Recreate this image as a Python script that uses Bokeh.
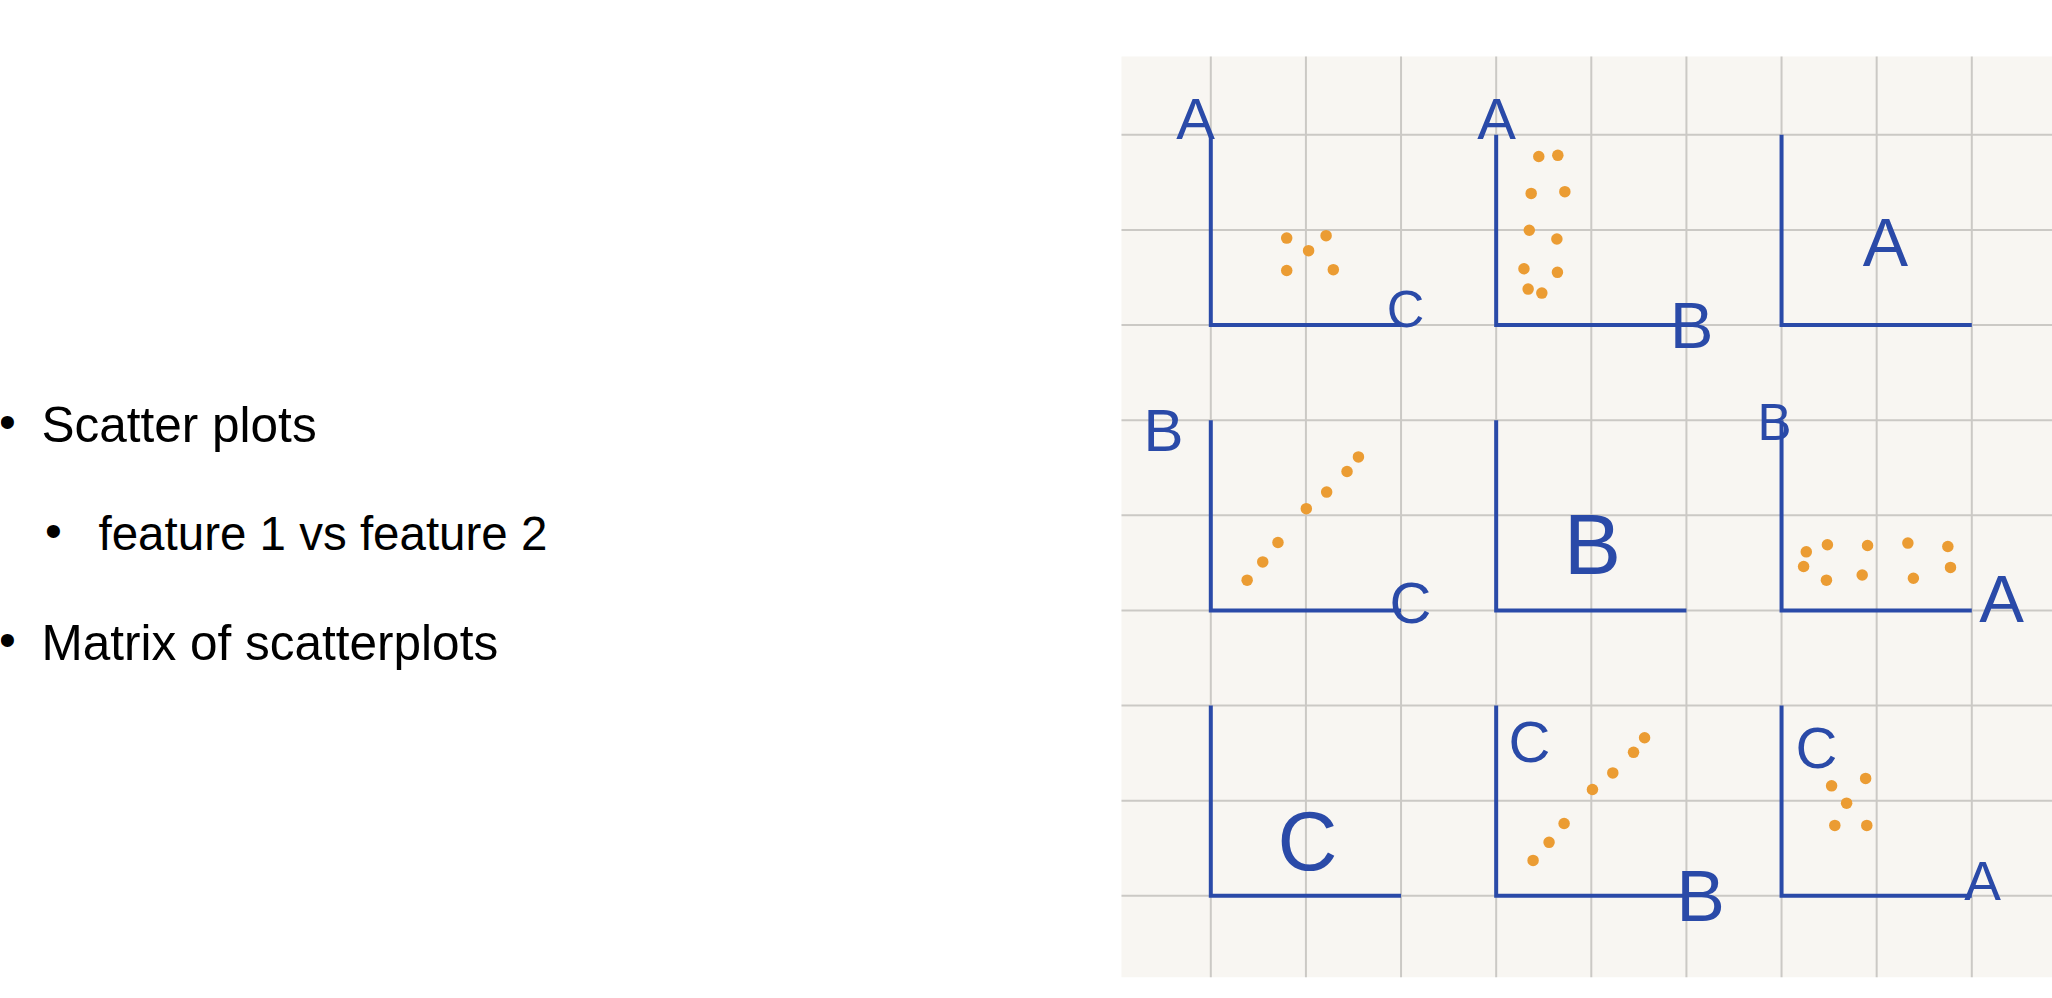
from bokeh.plotting import figure
from bokeh.models import Range1d
from bokeh.core.properties import value
from bokeh.embed import file_html
from bokeh.resources import INLINE

# ---------------- data (panel units: each axis runs 0..10) ----------------
features = ["A", "B", "C"]

# row 0 : A on the vertical axis
a_vs_c_x = [3.99, 6.06, 5.14, 3.99, 6.44]
a_vs_c_y = [4.57, 4.70, 3.91, 2.87, 2.91]
a_vs_b_x = [2.24, 3.24, 1.84, 3.61, 1.74, 3.19, 1.46, 3.22, 1.68, 2.40]
a_vs_b_y = [8.86, 8.92, 6.92, 7.01, 4.98, 4.52, 2.96, 2.77, 1.89, 1.68]
# row 1 : B on the vertical axis
b_vs_c_x = [1.91, 2.73, 3.53, 5.02, 6.09, 7.16, 7.76]
b_vs_c_y = [1.59, 2.55, 3.57, 5.35, 6.22, 7.30, 8.07]
b_vs_a_x = [1.30, 1.16, 2.41, 2.36, 4.52, 4.24, 6.64, 6.93, 8.74, 8.88]
b_vs_a_y = [3.08, 2.31, 3.45, 1.59, 3.41, 1.86, 3.54, 1.69, 3.36, 2.26]
# row 2 : C on the vertical axis
c_vs_b_x = [1.94, 2.78, 3.57, 5.06, 6.13, 7.22, 7.80]
c_vs_b_y = [1.86, 2.81, 3.80, 5.59, 6.46, 7.54, 8.31]
c_vs_a_x = [2.63, 4.42, 3.42, 2.80, 4.48]
c_vs_a_y = [5.78, 6.17, 4.87, 3.70, 3.70]

# (row, col) -> scatter data
panel_points = {
    (0, 0): (a_vs_c_x, a_vs_c_y),
    (0, 1): (a_vs_b_x, a_vs_b_y),
    (1, 0): (b_vs_c_x, b_vs_c_y),
    (1, 2): (b_vs_a_x, b_vs_a_y),
    (2, 1): (c_vs_b_x, c_vs_b_y),
    (2, 2): (c_vs_a_x, c_vs_a_y),
}

# hand-written labels: (row, col, text, x, y, font size px) in panel units
panel_labels = [
    (0, 0, "A", -0.80, 10.84, 65), (0, 0, "C", 10.23, 0.85, 58),
    (0, 1, "A", 0.02, 10.84, 65), (0, 1, "B", 10.27, -0.02, 72),
    (0, 2, "A", 5.46, 4.34, 75),
    (1, 0, "B", -2.49, 9.46, 67), (1, 0, "C", 10.50, 0.43, 64),
    (1, 1, "B", 5.06, 3.50, 95),
    (1, 2, "B", -0.37, 9.86, 57), (1, 2, "A", 11.56, 0.61, 74),
    (2, 0, "C", 5.08, 2.85, 92),
    (2, 1, "C", 1.75, 8.13, 65), (2, 1, "B", 10.74, 0.02, 81),
    (2, 2, "C", 1.84, 7.81, 65), (2, 2, "A", 10.57, 0.80, 61),
]

bullet_texts = ["Scatter plots", "feature 1 vs feature 2", "Matrix of scatterplots"]
bullet_levels = [1, 2, 1]

# ---------------- layout (page pixels) ----------------
FIG_W, FIG_H = 2052, 996
F_LEFT, F_TOP = 0, 0
F_RIGHT, F_BOTTOM = F_LEFT + FIG_W, F_TOP + FIG_H
CELL = 95.125
GRID_X0 = 1210.3          # page x of first vertical grid line
GRID_YB = 895.3           # page y of bottom panel row axis
PAPER_L, PAPER_T, PAPER_R, PAPER_B = 1121, 56, 2052, 976.7
UNIT = 2 * CELL / 10.0    # px per panel unit

BLUE = "#2a4aa8"
ORANGE = "#eb9c33"
PAPER = "#f8f6f2"
GRIDC = "#cbc9c5"

p = figure(width=FIG_W, height=FIG_H,
           x_range=Range1d(F_LEFT, F_RIGHT), y_range=Range1d(F_BOTTOM, F_TOP),
           x_axis_type=None, y_axis_type=None, output_backend="svg",
           toolbar_location=None, min_border=0)
p.outline_line_color = None
p.background_fill_color = "white"
p.border_fill_color = "white"

# panel coordinate systems through extra ranges
for c in range(3):
    ox = GRID_X0 + 3 * c * CELL
    p.extra_x_ranges[f"c{c}"] = Range1d((F_LEFT - ox) / UNIT, (F_RIGHT - ox) / UNIT)
for r in range(3):
    oy = GRID_YB - (2 - r) * 3 * CELL
    p.extra_y_ranges[f"r{r}"] = Range1d((oy - F_BOTTOM) / UNIT, (oy - F_TOP) / UNIT)

# paper
p.quad(left=[PAPER_L], right=[PAPER_R], top=[PAPER_T], bottom=[PAPER_B],
       fill_color=PAPER, line_color=None)

# paper grid
vticks = [GRID_X0 + i * CELL for i in range(9)]
hticks = [GRID_YB - j * CELL for j in range(9)]
p.segment(x0=vticks, x1=vticks, y0=[PAPER_T] * 9, y1=[PAPER_B] * 9,
          line_color=GRIDC, line_width=2)
p.segment(x0=[PAPER_L] * 9, x1=[PAPER_R] * 9, y0=hticks, y1=hticks,
          line_color=GRIDC, line_width=2)

# panel axes (L shapes)
for r in range(3):
    for c in range(3):
        p.line(x=[0, 0, 10], y=[10, 0, 0], line_color=BLUE, line_width=4,
               line_join="miter", x_range_name=f"c{c}", y_range_name=f"r{r}")

# scatter points
for (r, c), (xs, ys) in panel_points.items():
    p.scatter(x=xs, y=ys, size=11.5, fill_color=ORANGE, line_color=None,
              x_range_name=f"c{c}", y_range_name=f"r{r}")

# labels
for (r, c, t, lx, ly, fs) in panel_labels:
    p.text(x=[lx], y=[ly], text=[t], text_color=BLUE, text_font=value("Liberation Sans"),
           text_font_size=f"{fs * 0.9:.0f}px", text_align="center", text_baseline="alphabetic",
           x_range_name=f"c{c}", y_range_name=f"r{r}")

# slide text
text_x = {1: 41, 2: 98}
bullet_x = {1: 7, 2: 53}
font_px = {1: "49.5px", 2: "47.5px"}
base_y = [424, 533, 642]
for t, lvl, by in zip(bullet_texts, bullet_levels, base_y):
    p.text(x=[text_x[lvl]], y=[by], text=[t], text_color="#000000",
           text_font=value("Liberation Sans"), text_font_size=font_px[lvl],
           text_align="left", text_baseline="alphabetic")
    p.text(x=[bullet_x[lvl]], y=[by - 3], text=["\u2022"], text_color="#000000",
           text_font=value("Liberation Sans"), text_font_size="48px",
           text_align="center", text_baseline="alphabetic")

open("out.html", "w").write(file_html(p, INLINE))
